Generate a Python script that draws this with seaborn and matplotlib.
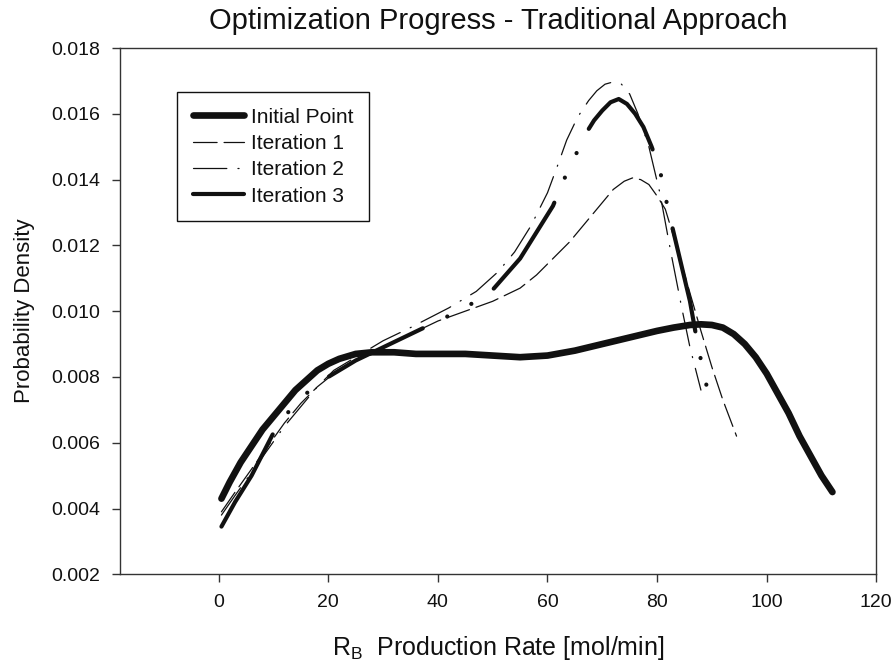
import matplotlib
matplotlib.use("Agg")
import matplotlib.pyplot as plt
import pandas as pd
import seaborn as sns

# Probability density of the R_B production rate at each stage of the optimisation
x_initial = [0.5, 2, 4, 6, 8, 10, 12, 14, 16, 18, 20, 22, 25, 28, 32, 36, 40,
             45, 50, 55, 60, 65, 70, 75, 80, 83, 86, 88, 90, 92, 94, 96, 98,
             100, 102, 104, 106, 108, 110, 112]
y_initial = [0.0043, 0.0048, 0.0054, 0.0059, 0.0064, 0.0068, 0.0072, 0.0076,
             0.0079, 0.0082, 0.0084, 0.00855, 0.0087, 0.00875, 0.00875,
             0.0087, 0.0087, 0.0087, 0.00865, 0.0086, 0.00865, 0.0088,
             0.0090, 0.0092, 0.0094, 0.0095, 0.00958, 0.0096, 0.00958,
             0.0095, 0.0093, 0.0090, 0.0086, 0.0081, 0.0075, 0.0069, 0.0062,
             0.0056, 0.0050, 0.0045]

x_iter1 = [0.5, 3, 6, 9, 12, 15, 18, 21, 25, 30, 35, 40, 45, 50, 55, 58, 61,
           64, 67, 70, 72, 74, 75.5, 77, 78.5, 80, 81.5, 83.5, 86, 88, 90, 92,
           94.5]
y_iter1 = [0.0039, 0.0045, 0.0052, 0.0059, 0.0066, 0.0072, 0.0077, 0.0081,
           0.0085, 0.0089, 0.0093, 0.0097, 0.0100, 0.0103, 0.0107, 0.0111,
           0.0116, 0.0121, 0.0127, 0.0133, 0.0137, 0.01395, 0.01405, 0.01400,
           0.01385, 0.0135, 0.0131, 0.0120, 0.01055, 0.0094, 0.0083, 0.0073,
           0.0062]

x_iter2 = [0.5, 3, 6, 9, 12, 15, 18, 21, 25, 30, 35, 38.5, 42, 47, 51, 54, 57,
           60, 62, 63.5, 65.5, 67.5, 69, 70.5, 72, 73.5, 75, 76.5, 78.5, 80.5,
           82.5, 84.5, 86, 88]
y_iter2 = [0.0038, 0.0044, 0.0051, 0.0058, 0.0065, 0.0071, 0.0077, 0.0082,
           0.0086, 0.0091, 0.0095, 0.0098, 0.0101, 0.0106, 0.0112, 0.0118,
           0.0126, 0.0136, 0.0145, 0.0152, 0.0159, 0.0164, 0.0167, 0.01690,
           0.01697, 0.01690, 0.0166, 0.0160, 0.0150, 0.0136, 0.0118, 0.0101,
           0.0089, 0.0076]

x_iter3 = [0.5, 3, 6, 10, 13, 16, 20, 25, 30, 35, 40, 45, 50, 55, 58, 61, 63,
           65, 67, 68.5, 70, 71.5, 73, 74.5, 76, 77.5, 79, 80.5, 82, 84, 86,
           87.5, 89.2]
y_iter3 = [0.00345, 0.0042, 0.0050, 0.0063, 0.0070, 0.0075, 0.0080, 0.0085,
           0.0089, 0.0093, 0.0097, 0.0101, 0.01065, 0.0116, 0.0124, 0.0132,
           0.0140, 0.0147, 0.0154, 0.0158, 0.0161, 0.01635, 0.01645, 0.0163,
           0.0160, 0.0156, 0.0150, 0.0143, 0.0131, 0.0117, 0.0103, 0.0089,
           0.0076]

series = {
    "Initial Point": (x_initial, y_initial),
    "Iteration 1": (x_iter1, y_iter1),
    "Iteration 2": (x_iter2, y_iter2),
    "Iteration 3": (x_iter3, y_iter3),
}

x_ticks = [0, 20, 40, 60, 80, 100, 120]
y_ticks = [0.002, 0.004, 0.006, 0.008, 0.010, 0.012, 0.014, 0.016, 0.018]

line_styles = {
    "Initial Point": dict(linewidth=4.8, linestyle="-", color="#111111"),
    "Iteration 1": dict(linewidth=0.9, linestyle=(0, (17, 5)), color="#111111"),
    "Iteration 2": dict(linewidth=0.9, linestyle=(0, (24, 8, 0.8, 8)),
                        color="#111111"),
    "Iteration 3": dict(linewidth=3.0,
                        linestyle=(0, (76, 19.5, 0.1, 19.5, 0.1, 19.5)),
                        color="#111111"),
}

sns.set_theme(style="ticks")
plt.rcParams["font.family"] = ["Liberation Sans", "DejaVu Sans"]
plt.rcParams["mathtext.fontset"] = "custom"
plt.rcParams["mathtext.rm"] = "Liberation Sans"
plt.rcParams["mathtext.it"] = "Liberation Sans:italic"
plt.rcParams["lines.scale_dashes"] = False

fig = plt.figure(figsize=(8.96, 6.67), dpi=100)
ax = fig.add_axes([0.134, 0.139, 0.844, 0.789])

for name, (xs, ys) in series.items():
    df = pd.DataFrame({"x": xs, "y": ys})
    sns.lineplot(data=df, x="x", y="y", ax=ax, label=name, estimator=None,
                 sort=False, dash_capstyle="round", solid_capstyle="round",
                 solid_joinstyle="round", **line_styles[name])

ax.set_xlim(-18, 120)
ax.set_ylim(0.002, 0.018)
ax.set_xticks(x_ticks)
ax.set_yticks(y_ticks)
ax.set_yticklabels([f"{v:.3f}" for v in y_ticks])
ax.set_xticklabels([str(v) for v in x_ticks])

for spine in ax.spines.values():
    spine.set_color("#333333")
    spine.set_linewidth(1.0)

ax.tick_params(axis="both", direction="out", length=6, width=1.0,
               color="#333333", labelcolor="#111111", labelsize=14, pad=8)

ax.set_title("Optimization Progress - Traditional Approach", fontsize=21,
             color="#111111", pad=14)
ax.set_xlabel(r"$\mathrm{R_B}$  Production Rate [mol/min]", fontsize=18,
              color="#111111", labelpad=17)
ax.set_ylabel("Probability Density", fontsize=16, color="#111111",
              labelpad=12)

leg = ax.legend(loc="upper left", bbox_to_anchor=(0.0754, 0.9163),
                borderaxespad=0, frameon=True, fancybox=False,
                edgecolor="#111111", framealpha=1, fontsize=15,
                handlelength=2.45, handletextpad=0.35, labelspacing=0.35,
                borderpad=0.75)
leg.get_frame().set_linewidth(1.0)
for text in leg.get_texts():
    text.set_color("#111111")

fig.savefig("out.png", dpi=100, facecolor="white")
